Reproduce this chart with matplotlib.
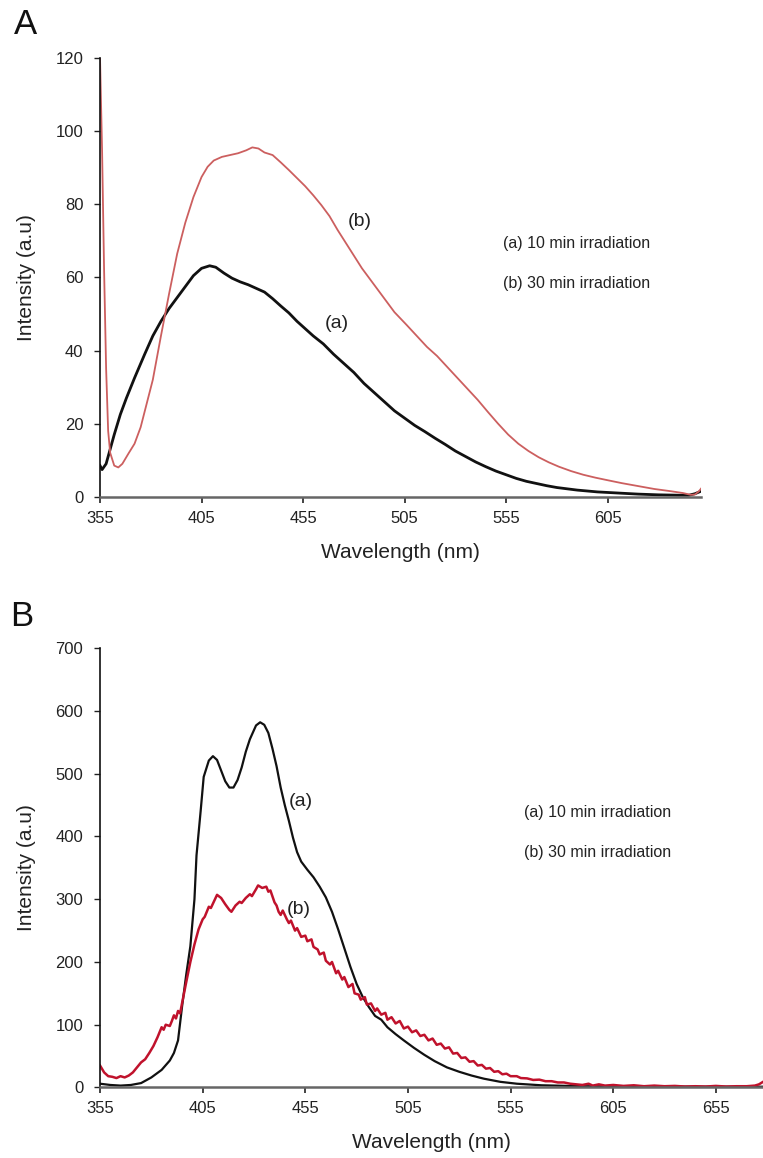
import matplotlib
matplotlib.use("Agg")
import matplotlib.pyplot as plt

plt.rcParams['font.family'] = ['Liberation Sans', 'DejaVu Sans']

# ---- panel A: emission spectra ----
wl_a_10 = [355, 356, 358, 360, 362, 365, 368, 372, 377, 381, 385, 389, 393, 397,
           401, 405, 409, 412, 416, 420, 424, 428, 432, 436, 440, 444, 448, 452,
           456, 460, 465, 470, 475, 480, 485, 490, 495, 500, 505, 510, 515, 520,
           525, 530, 535, 540, 545, 550, 555, 560, 565, 570, 575, 580, 590, 600,
           610, 620, 630, 640, 645, 648, 651]
int_a_10 = [8.5, 7.4, 9, 13, 17, 22.5, 27, 32.5, 39, 44, 48, 51.5, 54.5, 57.5,
            60.5, 62.5, 63.2, 62.8, 61.2, 59.8, 58.8, 58, 57, 56, 54.2, 52.2, 50.3, 48,
            46, 44, 41.8, 39, 36.5, 34, 31, 28.5, 26, 23.5, 21.5, 19.5, 17.8, 16,
            14.3, 12.5, 11, 9.5, 8.2, 7, 6, 5, 4.2, 3.6, 3, 2.5, 1.8, 1.3,
            1, 0.7, 0.5, 0.4, 0.4, 0.8, 1.5]

wl_a_30 = [355, 356, 357, 358, 359, 360, 362, 364, 366, 369, 372, 375, 378, 381,
           385, 389, 393, 397, 401, 405, 408, 411, 415, 419, 423, 427, 430, 433,
           436, 440, 444, 448, 452, 456, 460, 464, 468, 472, 476, 480, 484, 488,
           492, 496, 500, 506, 511, 516, 521, 526, 531, 536, 541, 546, 551, 556,
           561, 566, 571, 576, 581, 587, 593, 599, 605, 612, 620, 628, 636, 642,
           646, 648, 650, 651]
int_a_30 = [120, 95, 62, 35, 18, 12, 8.5, 8, 9, 11.8, 14.5, 19, 25.5, 32,
            44, 55.5, 66.5, 75, 82, 87.5, 90.3, 92, 93, 93.5, 94, 94.8, 95.6, 95.3,
            94.2, 93.5, 91.5, 89.4, 87.2, 85, 82.5, 79.8, 76.8, 73, 69.5, 66, 62.5, 59.5,
            56.5, 53.5, 50.5, 47, 44, 41, 38.5, 35.5, 32.5, 29.5, 26.5, 23.2, 20, 17,
            14.5, 12.5, 10.8, 9.4, 8.2, 7, 6, 5.2, 4.5, 3.7, 2.9, 2.1, 1.5, 1,
            0.5, 0.6, 1.5, 2.2]

# ---- panel B ----
wl_b_10 = [355, 360, 365, 370, 375, 380, 385, 389, 391, 393, 395, 397, 399, 401,
           402, 404, 405.5, 408, 410, 412, 414, 416, 418, 420, 422, 424, 426, 428,
           431, 433, 435, 437, 439, 441, 443, 445, 447, 449, 451, 453, 456, 459,
           462, 465, 468, 471, 474, 477, 480, 483, 486, 489, 492, 495, 499, 503,
           508, 513, 518, 524, 530, 536, 542, 550, 558, 570, 590, 620, 650, 678]
int_b_10 = [6, 4, 3, 4, 7, 16, 28, 43, 55, 75, 130, 180, 225, 300,
            370, 440, 495, 521, 528, 522, 505, 488, 478, 478, 490, 510, 535, 555,
            577, 582, 578, 565, 540, 512, 478, 450, 425, 398, 375, 360, 347, 335,
            320, 303, 280, 252, 222, 192, 165, 144, 128, 114, 108, 96, 85, 75,
            63, 52, 42, 32, 25, 19, 14, 9, 6, 3.5, 2, 1.5, 1.2, 1.2]

wl_b_30 = [355, 357, 359, 361, 363, 365, 367, 369, 371, 373, 375, 377, 379, 381,
           383, 385, 386, 387, 389, 390, 391, 392, 393, 394, 395, 397, 399, 401,
           403, 405, 406, 408, 409, 411, 412, 414, 416, 418, 419, 421, 423, 424,
           426, 428, 429, 431, 432, 434, 436, 437, 438, 440, 441, 442, 443, 444,
           446, 447, 448, 450, 451, 453, 455, 456, 458, 459, 461, 462, 464, 465,
           467, 468, 470, 471, 473, 474, 476, 478, 479, 481, 482, 484, 485, 487,
           489, 490, 492, 494, 495, 497, 499, 501, 503, 505, 507, 509, 511, 513,
           515, 517, 519, 521, 523, 525, 527, 529, 531, 533, 535, 537, 539, 541,
           543, 545, 547, 549, 551, 553, 555, 558, 560, 563, 566, 569, 572, 575,
           578, 581, 584, 587, 590, 593, 595, 598, 601, 605, 610, 615, 620, 625,
           630, 635, 640, 645, 650, 655, 660, 665, 670, 674, 676, 678]
int_b_30 = [35, 24, 18, 17, 15, 18, 16, 19, 24, 32, 40, 45, 55, 66,
            80, 96, 92, 100, 98, 106, 115, 110, 122, 118, 135, 168, 200, 228,
            252, 268, 272, 288, 286, 300, 307, 302, 292, 283, 280, 290, 296, 294,
            302, 308, 305, 316, 322, 318, 320, 312, 314, 295, 290, 280, 275, 282,
            268, 262, 266, 250, 254, 240, 242, 233, 236, 224, 220, 212, 215, 202,
            196, 200, 182, 186, 172, 176, 160, 165, 150, 148, 140, 144, 132, 134,
            122, 126, 116, 119, 108, 112, 102, 106, 94, 97, 88, 91, 82, 84,
            75, 78, 68, 70, 62, 64, 54, 55, 47, 48, 41, 42, 35, 36,
            30, 31, 25, 26, 21, 22, 18, 18, 15, 14.5, 12, 12.5, 10, 10,
            8, 8, 6, 5, 4, 6, 3, 5, 3, 4, 2.5, 3.5, 2, 3,
            2, 2.5, 1.5, 2, 1.5, 2.5, 1.5, 2, 2, 3, 5, 9]

legend_lines = ["(a) 10 min irradiation", "(b) 30 min irradiation"]

fig = plt.figure(figsize=(7.63, 11.58), dpi=100)
ax1 = fig.add_axes([0.1311, 0.5711, 0.7877, 0.3786])
ax2 = fig.add_axes([0.1311, 0.0609, 0.8690, 0.3793])


def style(ax):
    for s in ["top", "right"]:
        ax.spines[s].set_visible(False)
    ax.spines["left"].set_color("#111111")
    ax.spines["left"].set_linewidth(1.2)
    ax.spines["bottom"].set_color("#666666")
    ax.spines["bottom"].set_linewidth(1.8)
    ax.tick_params(axis="x", direction="out", length=4, width=1.2, pad=6,
                   labelsize=12, colors="#222222")
    ax.tick_params(axis="y", direction="out", length=4, width=1, pad=8,
                   labelsize=12, colors="#222222")
    ax.set_xlabel("Wavelength (nm)", fontsize=15, color="#222222")
    ax.set_ylabel("Intensity (a.u)", fontsize=15, color="#222222")


# panel A
ax1.plot(wl_a_10, int_a_10, color="#111111", lw=2.0)
ax1.plot(wl_a_30, int_a_30, color="#cc5f5f", lw=1.3)
ax1.set_xlim(355, 651)
ax1.set_ylim(0, 120)
ax1.set_xticks(range(355, 606, 50))
ax1.set_yticks(range(0, 121, 20))
style(ax1)
ax1.xaxis.set_label_coords(0.5, -0.106)
ax1.yaxis.set_label_coords(-0.107, 0.5)
ax1.text(483, 75.4, "(b)", fontsize=14, ha="center", va="center", color="#222222")
ax1.text(471.6, 47.4, "(a)", fontsize=14, ha="center", va="center", color="#222222")
ax1.text(553.5, 69.4, legend_lines[0], fontsize=11.5, va="center", color="#222222")
ax1.text(553.5, 58.4, legend_lines[1], fontsize=11.5, va="center", color="#222222")

# panel B
ax2.plot(wl_b_10, int_b_10, color="#111111", lw=1.6)
ax2.plot(wl_b_30, int_b_30, color="#c0122c", lw=1.8)
ax2.set_xlim(355, 678)
ax2.set_ylim(0, 700)
ax2.set_xticks(range(355, 656, 50))
ax2.set_yticks(range(0, 701, 100))
style(ax2)
ax2.xaxis.set_label_coords(0.5, -0.104)
ax2.yaxis.set_label_coords(-0.097, 0.5)
ax2.text(452.6, 455, "(a)", fontsize=14, ha="center", va="center", color="#222222")
ax2.text(451.6, 284, "(b)", fontsize=14, ha="center", va="center", color="#222222")
ax2.text(561.3, 439, legend_lines[0], fontsize=11.5, va="center", color="#222222")
ax2.text(561.3, 374, legend_lines[1], fontsize=11.5, va="center", color="#222222")

fig.text(25 / 763, 1 - 25 / 1158, "A", fontsize=25, ha="center", va="center", color="#111111")
fig.text(22 / 763, 1 - 617 / 1158, "B", fontsize=25, ha="center", va="center", color="#111111")

fig.savefig("out.png", dpi=100)
